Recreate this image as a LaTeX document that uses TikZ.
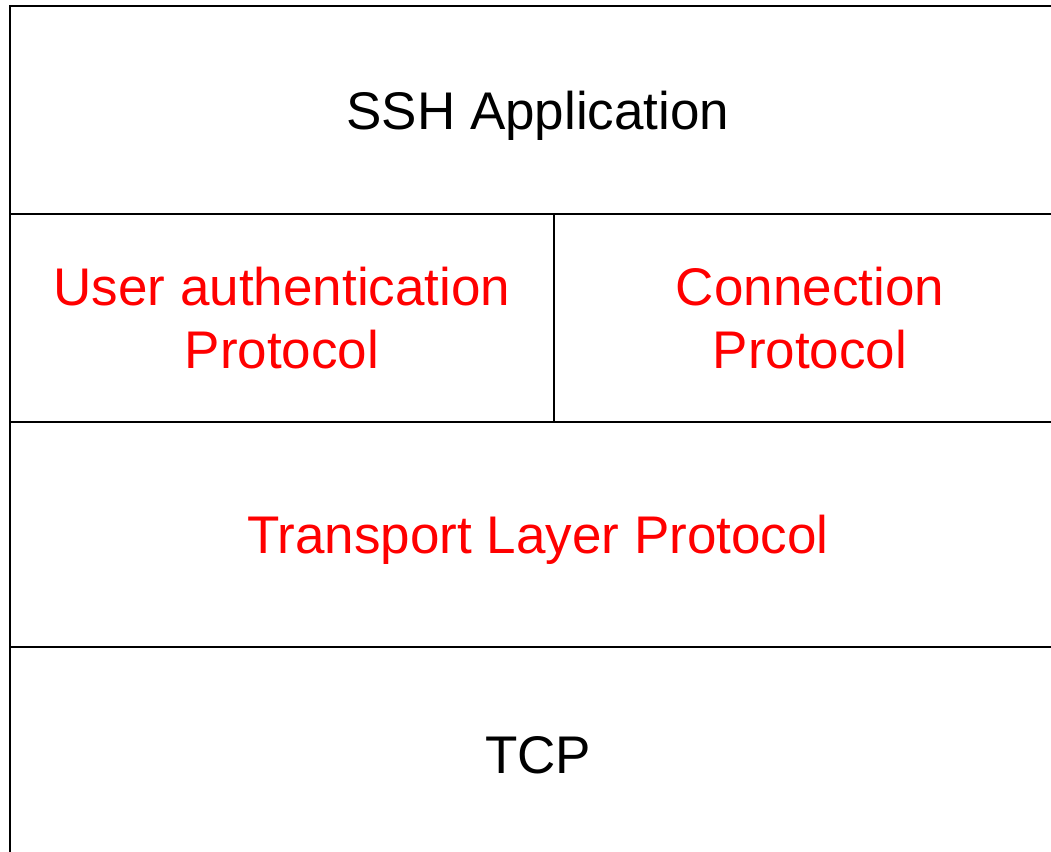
\documentclass[tikz,border=0pt]{standalone}
\usepackage{fontspec}
\setmainfont{Liberation Sans}
\begin{document}
\begin{tikzpicture}[x=1pt,y=-1pt,
  layer/.style={draw=black,line width=2pt,inner sep=0pt,outer sep=0pt,anchor=north west,
    font=\fontsize{53}{63}\selectfont,align=center,text depth=0pt},
  proto/.style={layer,text=red}]
\useasboundingbox (0,0) rectangle (1051,851);
\clip (0,0) rectangle (1051,851);
% protocol stack, top to bottom
\node[layer,minimum width=1056pt,minimum height=208pt] (app) at (10,6) {SSH Application};
\node[proto,minimum width=544pt,minimum height=208pt] (auth) at (app.south west) {User authentication\\Protocol};
\node[proto,minimum width=512pt,minimum height=208pt] (conn) at (auth.north east) {Connection\\Protocol};
\node[proto,minimum width=1056pt,minimum height=225pt] (trans) at (auth.south west) {Transport Layer Protocol};
\node[layer,minimum width=1056pt,minimum height=215pt] (tcp) at (trans.south west) {TCP};
\end{tikzpicture}
\end{document}
